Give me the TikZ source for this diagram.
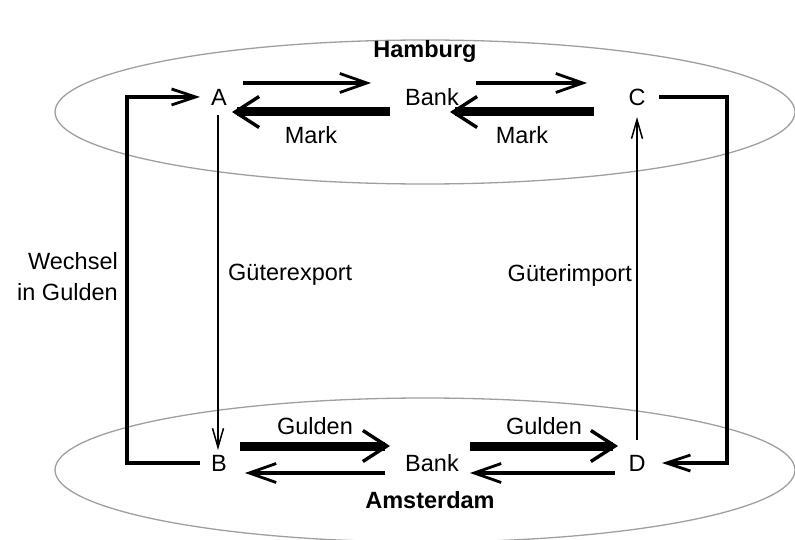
\documentclass[tikz,border=0pt]{standalone}
\usepackage{fontspec}
\setmainfont{Liberation Sans}
\usetikzlibrary{arrows.meta}

\tikzset{
  city/.style={draw=gray!75,line width=1.3pt},
  flow/.style={line width=3.5pt,-{Straight Barb[length=27pt,width=19pt,line width=2.8pt]}},
  bigflow/.style={line width=9pt,-{Straight Barb[length=24pt,width=31pt,line width=3.4pt]}},
  goods/.style={line width=1.5pt,-{Straight Barb[length=19pt,width=11pt,line width=1.5pt]}},
  bill/.style={line width=3.8pt,-{Straight Barb[length=24pt,width=16pt,line width=2.8pt]}}
}

\begin{document}
\begin{tikzpicture}[x=1pt,y=-1pt,every node/.style={font=\fontsize{23.5}{31}\selectfont,inner sep=2pt}]
    \useasboundingbox (0,0) rectangle (795,540);
    % the two cities
    \draw[city] (425,112) ellipse [x radius=370,y radius=72];
    \draw[city] (425,470) ellipse [x radius=370,y radius=72];
    \node[font=\fontsize{23.5}{31}\selectfont\bfseries] (hamburg) at (425,51) {Hamburg};
    \node[font=\fontsize{23.5}{31}\selectfont\bfseries] (amsterdam) at (430,500) {Amsterdam};

    \node (A) at (219,97) {A};
    \node (bankH) at (432,97) {Bank};
    \node (C) at (637,97) {C};
    \node (B) at (219,463) {B};
    \node (bankA) at (432,463) {Bank};
    \node (D) at (637,463) {D};

    % Hamburg
    \draw[flow] ([shift={(24,-14)}]A.center) -- ([shift={(-61,-14)}]bankH.center);
    \draw[bigflow] ([shift={(-42,15)}]bankH.center) -- ([shift={(13,15)}]A.center)
      node[midway,below=8pt] {Mark};
    \draw[flow] ([shift={(44,-14)}]bankH.center) -- ([shift={(-50,-14)}]C.center);
    \draw[bigflow] ([shift={(-43,15)}]C.center) -- ([shift={(18,15)}]bankH.center)
      node[midway,below=8pt] {Mark};

    % Amsterdam
    \draw[bigflow] ([shift={(21,-17)}]B.center) -- ([shift={(-42,-17)}]bankA.center)
      node[midway,above=5pt] {Gulden};
    \draw[flow] ([shift={(-47,10)}]bankA.center) -- ([shift={(26,10)}]B.center);
    \draw[bigflow] ([shift={(38,-17)}]bankA.center) -- ([shift={(-19,-17)}]D.center)
      node[midway,above=5pt] {Gulden};
    \draw[flow] ([shift={(-22,10)}]D.center) -- ([shift={(38,10)}]bankA.center);

    % goods
    \draw[goods] ([shift={(-1,18)}]A.center) -- ([shift={(-1,-13)}]B.center);
    \draw[goods] ([shift={(0,-23)}]D.center) -- ([shift={(0,20)}]C.center);
    \node[anchor=west] (export) at (226,275) {Güterexport};
    \node[anchor=east] (import) at (634,275) {Güterimport};

    % bills of exchange
    \draw[bill] ([shift={(-19,0)}]B.center) -- ++(-73,0) |- ([shift={(-19,0)}]A.center);
    \draw[bill] ([shift={(22,0)}]C.center) -- ++(68,0) |- ([shift={(25,0)}]D.center);
    \node[anchor=east,align=right] (wechsel) at (120,277) {Wechsel\\in Gulden};
  \end{tikzpicture}
\end{document}
